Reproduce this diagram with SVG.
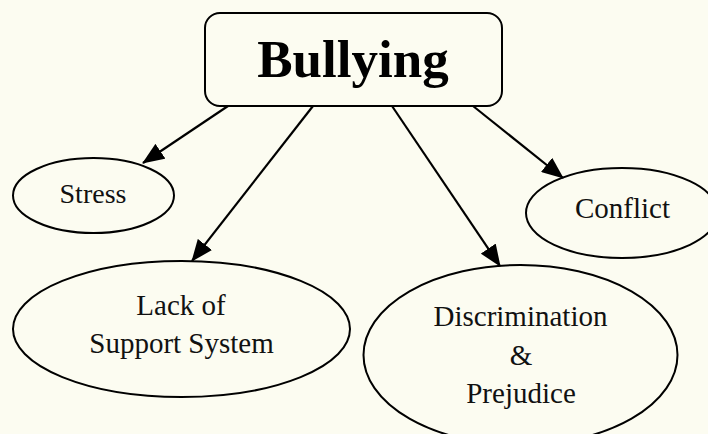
<svg xmlns="http://www.w3.org/2000/svg" width="708" height="434" viewBox="0 0 708 434">
<defs>
<style>
.node { fill: none; stroke: #000; stroke-width: 2; }
.lbl { font-family: "Liberation Serif", "Times New Roman", serif; font-size: 29px; fill: #111; text-anchor: middle; }
.title { font-family: "Liberation Serif", "Times New Roman", serif; font-size: 53px; font-weight: bold; fill: #000; text-anchor: middle; }
.edge { stroke: #000; stroke-width: 2.2; fill: none; marker-end: url(#arrow); }
</style>
<marker id="arrow" markerUnits="userSpaceOnUse" markerWidth="22" markerHeight="18" viewBox="0 0 22 18" refX="21" refY="9" orient="auto">
<path d="M0,0 L22,9 L0,18 Z" fill="#000"/>
</marker>
</defs>
<rect x="0" y="0" width="708" height="434" fill="#fcfcf1"/>
<g id="connectors">
<line class="edge" x1="228" y1="106" x2="143" y2="163"/>
<line class="edge" x1="313" y1="106" x2="192" y2="261"/>
<line class="edge" x1="392" y1="106" x2="500" y2="266"/>
<line class="edge" x1="473" y1="106" x2="563" y2="178"/>
</g>
<g id="bullying">
<rect class="node" x="205" y="13" width="297" height="93" rx="15" ry="15"/>
<text class="title" x="353" y="77">Bullying</text>
</g>
<g id="stress">
<ellipse class="node" cx="93.5" cy="195.5" rx="80.5" ry="37.5"/>
<text class="lbl" x="93" y="203" style="font-size:28px">Stress</text>
</g>
<g id="conflict">
<ellipse class="node" cx="622" cy="213" rx="96" ry="45"/>
<text class="lbl" x="622.5" y="218">Conflict</text>
</g>
<g id="lack-of-support">
<ellipse class="node" cx="181.5" cy="329" rx="168.5" ry="68"/>
<text class="lbl" x="181" y="315">Lack of</text>
<text class="lbl" x="181.5" y="353">Support System</text>
</g>
<g id="discrimination">
<ellipse class="node" cx="520.5" cy="355" rx="157" ry="90"/>
<text class="lbl" x="520.5" y="326">Discrimination</text>
<text class="lbl" x="521" y="365">&amp;</text>
<text class="lbl" x="521" y="403">Prejudice</text>
</g>
</svg>
